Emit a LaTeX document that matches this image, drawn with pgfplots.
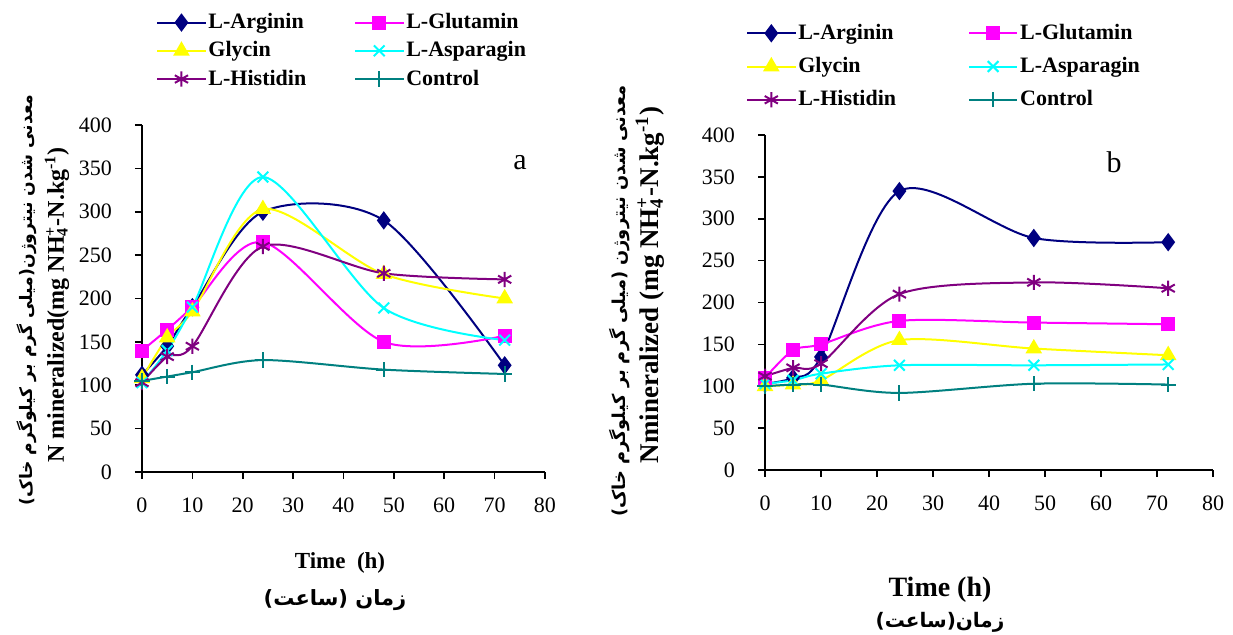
\documentclass[border=0pt]{standalone}
\usepackage{fontspec}
\setmainfont{Liberation Serif}
\newfontfamily\fa[Script=Arabic]{DejaVu Sans}
\TeXXeTstate=1
\usepackage{pgfplots}
\pgfplotsset{compat=1.18}

\definecolor{argc}{RGB}{0,0,128}
\definecolor{gluc}{RGB}{255,0,255}
\definecolor{glyc}{RGB}{255,255,0}
\definecolor{aspc}{RGB}{0,255,255}
\definecolor{hisc}{RGB}{128,0,128}
\definecolor{conc}{RGB}{0,128,128}

\pgfplotsset{
  panel/.style={
    scale only axis, clip=false,
    axis x line*=bottom, axis y line*=left,
    xmin=0, xmax=80, ymin=0, ymax=400,
    xtick={0,10,...,80}, ytick={0,50,...,400},
    tick align=outside, major tick length=3.5pt,
    axis line style={line width=1pt},
    tick style={black, line width=0.8pt},
    ticklabel style={font=\fontsize{11}{12}\selectfont},
    yticklabel style={xshift=-8pt},
    xticklabel style={yshift=-6pt},
    /pgf/number format/assume math mode=true,
    every axis plot/.append style={smooth, line width=1pt},
    legend columns=2, legend cell align=left,
    legend style={draw=none, fill=none, anchor=north west,
      font=\bfseries\fontsize{11}{13}\selectfont,
      nodes={inner sep=1pt}},
    legend image code/.code={\draw[mark repeat=2,mark phase=2]
      plot coordinates {(0pt,0pt) (12pt,0pt) (24pt,0pt)};},
  },
  sarg/.style={color=argc, mark=diamond*, mark size=3.8pt, mark options={solid, fill=argc}},
  sglu/.style={color=gluc, mark=square*, mark size=3pt, mark options={solid, fill=gluc}},
  sgly/.style={color=glyc, mark=triangle*, mark size=3.8pt, mark options={solid, fill=glyc}},
  sasp/.style={color=aspc, mark=x, mark size=3.8pt, mark options={solid}},
  shis/.style={color=hisc, mark=asterisk, mark size=3.8pt, mark options={solid}},
  scon/.style={color=conc, mark=+, mark size=3.8pt, mark options={solid}},
}

\begin{document}
\begin{tikzpicture}
\useasboundingbox (0,0) rectangle (616.5pt,317.5pt);

% panel a
\begin{axis}[panel, at={(71pt,81.5pt)}, anchor=south west,
  width=201.5pt, height=173.5pt,
  legend style={at={(0.02,1.34)}, row sep=3pt,
    /tikz/every even column/.append style={column sep=23pt}}]
\addplot[sarg] coordinates {(0,112) (5,145) (10,190) (24,300) (48,290) (72,123)};
\addlegendentry{L-Arginin}
\addplot[sglu] coordinates {(0,140) (5,164) (10,190) (24,265) (48,150) (72,157)};
\addlegendentry{L-Glutamin}
\addplot[sgly] coordinates {(0,108) (5,155) (10,185) (24,303) (48,228) (72,200)};
\addlegendentry{Glycin}
\addplot[sasp] coordinates {(0,103) (5,140) (10,190) (24,340) (48,189) (72,152)};
\addlegendentry{L-Asparagin}
\addplot[shis] coordinates {(0,103) (5,133) (10,145) (24,260) (48,229) (72,222)};
\addlegendentry{L-Histidin}
\addplot[scon] coordinates {(0,105) (5,110) (10,115) (24,129) (48,118) (72,113)};
\addlegendentry{Control}
\end{axis}

% panel b
\begin{axis}[panel, at={(382.5pt,82.5pt)}, anchor=south west,
  width=224pt, height=167.5pt,
  legend style={at={(-0.056,1.35)}, row sep=5.5pt,
    /tikz/every even column/.append style={column sep=35pt}}]
\addplot[sarg] coordinates {(0,103) (5,110) (10,135) (24,333) (48,277) (72,272)};
\addlegendentry{L-Arginin}
\addplot[sglu] coordinates {(0,110) (5,143) (10,150) (24,178) (48,176) (72,174)};
\addlegendentry{L-Glutamin}
\addplot[sgly] coordinates {(0,100) (5,102) (10,107) (24,155) (48,145) (72,137)};
\addlegendentry{Glycin}
\addplot[sasp] coordinates {(0,103) (5,107) (10,115) (24,125) (48,125) (72,126)};
\addlegendentry{L-Asparagin}
\addplot[shis] coordinates {(0,112) (5,122) (10,127) (24,210) (48,224) (72,217)};
\addlegendentry{L-Histidin}
\addplot[scon] coordinates {(0,100) (5,102) (10,102) (24,92) (48,103) (72,102)};
\addlegendentry{Control}
\end{axis}

% panel letters
\node[font=\fontsize{15}{17}\selectfont] at (260pt,236pt) {a};
\node[font=\fontsize{15}{17}\selectfont] at (557pt,236.5pt) {b};

% x labels
\node[font=\bfseries\fontsize{11.5}{13}\selectfont] at (170pt,36pt) {Time\ \ (h)};
\node[font=\fa\bfseries\fontsize{10.5}{12}\selectfont] at (167.5pt,17.5pt) {\beginR زمان (ساعت)\endR};
\node[font=\bfseries\fontsize{14}{16}\selectfont] at (470pt,22.5pt) {Time (h)};
\node[font=\fa\bfseries\fontsize{10}{12}\selectfont] at (470pt,6.5pt) {\beginR زمان(ساعت)\endR};

% y labels
\node[rotate=90, font=\fa\bfseries\fontsize{8.6}{10}\selectfont] at (13.5pt,167.5pt)
  {\beginR معدنی شدن نیتروژن(میلی گرم بر کیلوگرم خاک)\endR};
\node[rotate=90, font=\bfseries\fontsize{12}{14}\selectfont] at (28.5pt,165pt)
  {N mineralized(mg NH\rlap{\textsubscript{4}}\textsuperscript{+}-N.kg\textsuperscript{-1})};
\node[rotate=90, font=\fa\bfseries\fontsize{8.9}{10}\selectfont] at (310pt,167pt)
  {\beginR معدنی شدن نیتروژن (میلی گرم بر کیلوگرم خاک)\endR};
\node[rotate=90, font=\bfseries\fontsize{13.5}{15}\selectfont] at (325pt,175pt)
  {Nmineralized (mg NH\rlap{\textsubscript{4}}\textsuperscript{+}-N.kg\textsuperscript{-1})};
\end{tikzpicture}
\end{document}
